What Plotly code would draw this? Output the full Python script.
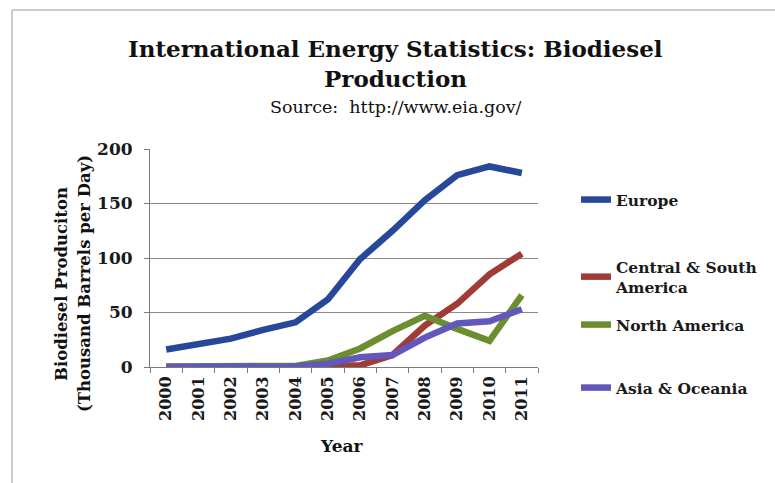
import plotly.graph_objects as go

# Biodiesel production by region, thousand barrels per day
years = ["2000", "2001", "2002", "2003", "2004", "2005",
         "2006", "2007", "2008", "2009", "2010", "2011"]
europe = [16, 21, 26, 34, 41, 62, 99, 125, 153, 176, 184, 178]
central_south_america = [0, 0, 0.5, 0.5, 0.5, 0.5, 1.5, 11, 38, 58, 85, 104]
north_america = [0.5, 0.5, 1, 1, 1, 6, 17, 33, 47, 35, 24, 66]
asia_oceania = [0, 0, 0, 0, 0.5, 3, 9, 11, 27, 40, 42, 53]

series_names = ["Europe", "Central & South<br>America", "North America", "Asia & Oceania"]
series_values = [europe, central_south_america, north_america, asia_oceania]
colors = ["#27479A", "#A03C35", "#6B8E2E", "#6257BA"]

FONT = "DejaVu Serif"
W, H = 775, 483

fig = go.Figure()
legend_ids = ["legend", "legend2", "legend3", "legend4"]
legend_y = [200, 277, 325, 388]  # vertical centres in pixels
for name, vals, col, lg in zip(series_names, series_values, colors, legend_ids):
    fig.add_trace(go.Scatter(
        x=years, y=vals, name=name, mode="lines",
        line=dict(color=col, width=6.5),
        legend=lg,
    ))

legend_cfg = {}
for lg, yp in zip(legend_ids, legend_y):
    legend_cfg[lg] = dict(
        xref="container", yref="container",
        x=576 / W, y=1 - yp / H, xanchor="left", yanchor="middle",
        font=dict(family=FONT, size=15.5, color="#1a1a1a", weight="bold"),
        bgcolor="rgba(0,0,0,0)", borderwidth=0,
        itemwidth=30,
    )

fig.update_layout(
    width=W, height=H,
    margin=dict(l=150, r=W - 538, t=149, b=H - 367),
    paper_bgcolor="white", plot_bgcolor="white",
    showlegend=True,
    **legend_cfg,
    xaxis=dict(
        type="category", range=[-0.5, 11.5],
        tickson="boundaries", ticks="outside", ticklen=5, tickcolor="#7a7a7a",
        tickangle=-90, showline=True, linecolor="#7a7a7a", linewidth=1,
        showgrid=False, ticklabelstandoff=2,
        tickfont=dict(family=FONT, size=16, color="#1a1a1a", weight="bold"),
    ),
    yaxis=dict(
        range=[0, 200], dtick=50, ticks="outside", ticklen=5, tickcolor="#7a7a7a",
        showline=True, linecolor="#7a7a7a", linewidth=1,
        showgrid=True, gridcolor="#8a8a8a", gridwidth=1, zeroline=False,
        ticklabelstandoff=8,
        tickfont=dict(family=FONT, size=17, color="#1a1a1a", weight="bold"),
    ),
    annotations=[
        dict(text="<b>International Energy Statistics: Biodiesel</b>",
             xref="paper", yref="paper", x=0.5, y=1, showarrow=False,
             xanchor="center", yanchor="middle",
             font=dict(family=FONT, size=23, color="#111111")),
        dict(text="<b>Production</b>",
             xref="paper", yref="paper", x=0.5, y=1, showarrow=False,
             xanchor="center", yanchor="middle",
             font=dict(family=FONT, size=23, color="#111111")),
        dict(text="Source:  http://www.eia.gov/",
             xref="paper", yref="paper", x=0.5, y=1, showarrow=False,
             xanchor="center", yanchor="middle",
             font=dict(family=FONT, size=17.5, color="#111111")),
        dict(text="<b>Biodiesel Produciton</b>",
             xref="paper", yref="paper", x=0, y=0.5, showarrow=False,
             textangle=-90, xanchor="center", yanchor="middle",
             font=dict(family=FONT, size=16.5, color="#111111")),
        dict(text="<b>(Thousand Barrels per Day)</b>",
             xref="paper", yref="paper", x=0, y=0.5, showarrow=False,
             textangle=-90, xanchor="center", yanchor="middle",
             font=dict(family=FONT, size=16.5, color="#111111")),
        dict(text="<b>Year</b>",
             xref="paper", yref="paper", x=0.5, y=0, showarrow=False,
             xanchor="center", yanchor="middle",
             font=dict(family=FONT, size=17, color="#111111")),
    ],
)

# Pixel placement of the free text items (x centre, y centre)
text_pos = [(395, 48), (395, 78), (396, 107), (61, 284), (84, 284), (341, 446)]
pw, ph = 538 - 150, 367 - 149
for ann, (px, py) in zip(fig.layout.annotations, text_pos):
    ann.x = (px - 150) / pw
    ann.y = (367 - py) / ph

# Thin frame along the top and left edges
fig.add_shape(type="line", xref="paper", yref="paper",
              x0=(12 - 150) / pw, x1=(775 - 150) / pw,
              y0=(367 - 10) / ph, y1=(367 - 10) / ph,
              line=dict(color="#9a9a9a", width=1))
fig.add_shape(type="line", xref="paper", yref="paper",
              x0=(12 - 150) / pw, x1=(12 - 150) / pw,
              y0=(367 - 10) / ph, y1=(367 - 483) / ph,
              line=dict(color="#9a9a9a", width=1))

fig.write_html("out.html")
